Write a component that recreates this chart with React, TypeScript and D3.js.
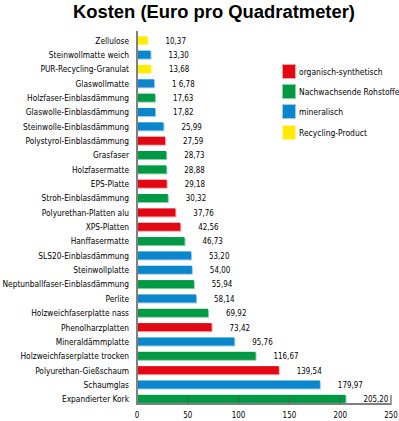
import React from "react";
import * as d3 from "d3";

const categories = [
  "Zellulose",
  "Steinwollmatte weich",
  "PUR-Recycling-Granulat",
  "Glaswollmatte",
  "Holzfaser-Einblasdämmung",
  "Glaswolle-Einblasdämmung",
  "Steinwolle-Einblasdämmung",
  "Polystyrol-Einblasdämmung",
  "Grasfaser",
  "Holzfasermatte",
  "EPS-Platte",
  "Stroh-Einblasdämmung",
  "Polyurethan-Platten alu",
  "XPS-Platten",
  "Hanffasermatte",
  "SLS20-Einblasdämmung",
  "Steinwollplatte",
  "Neptunballfaser-Einblasdämmung",
  "Perlite",
  "Holzweichfaserplatte nass",
  "Phenolharzplatten",
  "Mineraldämmplatte",
  "Holzweichfaserplatte trocken",
  "Polyurethan-Gießschaum",
  "Schaumglas",
  "Expandierter Kork",
];

const values = [
  10.37, 13.3, 13.68, 16.78, 17.63, 17.82, 25.99, 27.59, 28.73, 28.88, 29.18,
  30.32, 37.76, 42.56, 46.73, 53.2, 54.0, 55.94, 58.14, 69.92, 73.42, 95.76,
  116.67, 139.54, 179.97, 205.2,
];

const valueLabels = [
  "10,37", "13,30", "13,68", "1 6,78", "17,63", "17,82", "25,99", "27,59",
  "28,73", "28,88", "29,18", "30,32", "37,76", "42,56", "46,73", "53,20",
  "54,00", "55,94", "58,14", "69,92", "73,42", "95,76", "116,67", "139,54",
  "179,97", "205,20",
];

// group index per bar: 0 organisch-synthetisch, 1 Nachwachsende, 2 mineralisch, 3 Recycling
const groups = [
  3, 2, 3, 2, 1, 2, 2, 0, 1, 1, 0, 1, 0, 0, 1, 2, 2, 1, 2, 1, 0, 2, 1, 0, 2, 1,
];

const legendLabels = [
  "organisch-synthetisch",
  "Nachwachsende Rohstoffe",
  "mineralisch",
  "Recycling-Product",
];

const xTicks = [0, 50, 100, 150, 200, 250];

const colors = ["#e30613", "#009a44", "#0a86cd", "#ffec00"];
const lightColors = ["#f4a3a8", "#8fd0a8", "#9ccbeb", "#fff7a0"];

const FONT = "'DejaVu Sans Condensed', 'Liberation Sans', sans-serif";

function CText({
  x,
  y,
  anchor = "start",
  size = 9.5,
  sx = 0.86,
  children,
}: {
  x: number;
  y: number;
  anchor?: "start" | "middle" | "end";
  size?: number;
  sx?: number;
  children: React.ReactNode;
}) {
  return (
    <g transform={`translate(${x},${y}) scale(${sx},1)`}>
      <text x={0} y={0} textAnchor={anchor} fontSize={size} fill="#000" fontFamily={FONT}>
        {children}
      </text>
    </g>
  );
}

export default function App() {
  const W = 399;
  const H = 421;
  const x = d3.scaleLinear().domain([0, 250]).range([137, 391]);
  const y = d3
    .scaleBand<string>()
    .domain(categories)
    .range([33.1, 406])
    .paddingInner(0.44)
    .paddingOuter(0.22);
  const bw = y.bandwidth();
  const axisY = 404;

  return (
    <svg
      width={W}
      height={H}
      style={{ position: "absolute", left: 0, top: 0, background: "#fff" }}
    >
      <text
        x={214}
        y={18}
        textAnchor="middle"
        fontFamily="'Liberation Sans', Arial, sans-serif"
        fontWeight="bold"
        fontSize={18}
        textLength={282}
        lengthAdjust="spacingAndGlyphs"
        fill="#000"
      >
        Kosten (Euro pro Quadratmeter)
      </text>

      {categories.map((c, i) => {
        const yy = y(c)!;
        const g = groups[i];
        const x0 = x(0);
        const x1 = x(values[i]);
        return (
          <g key={c}>
            <rect x={x0 + 1} y={yy + 1} width={x1 - x0} height={bw} fill={lightColors[g]} />
            <rect x={x0} y={yy} width={x1 - x0} height={bw} fill={colors[g]} />
            <CText x={129} y={yy + bw / 2 + 3.4} anchor="end" sx={0.875}>
              {c}
            </CText>
            <CText x={x1 + 18} y={yy + bw / 2 + 3.4} size={9} sx={0.88}>
              {valueLabels[i]}
            </CText>
          </g>
        );
      })}

      {/* axes */}
      <line x1={x(0)} x2={x(0)} y1={31} y2={axisY + 1} stroke="#808080" strokeWidth={2} />
      <line x1={x(0)} x2={x(250)} y1={axisY} y2={axisY} stroke="#808080" strokeWidth={2} />
      <line x1={x(250)} x2={x(250)} y1={395} y2={axisY + 1} stroke="#808080" strokeWidth={1.5} />
      {xTicks.slice(1, -1).map((t) => (
        <line key={t} x1={x(t)} x2={x(t)} y1={395} y2={axisY} stroke="#555" strokeWidth={0.6} />
      ))}
      {xTicks.map((t) => (
        <CText key={t} x={x(t)} y={418} anchor="middle" size={9} sx={0.88}>
          {t}
        </CText>
      ))}

      {/* legend */}
      {legendLabels.map((l, i) => {
        const ly = [64, 84, 104, 125][i];
        return (
          <g key={l}>
            <rect x={282.5} y={ly + 0.5} width={13} height={14} fill={colors[i]} stroke={lightColors[i]} strokeWidth={1} />
            <CText x={299} y={ly + 10.5} size={9.5} sx={0.89}>
              {l}
            </CText>
          </g>
        );
      })}
    </svg>
  );
}
